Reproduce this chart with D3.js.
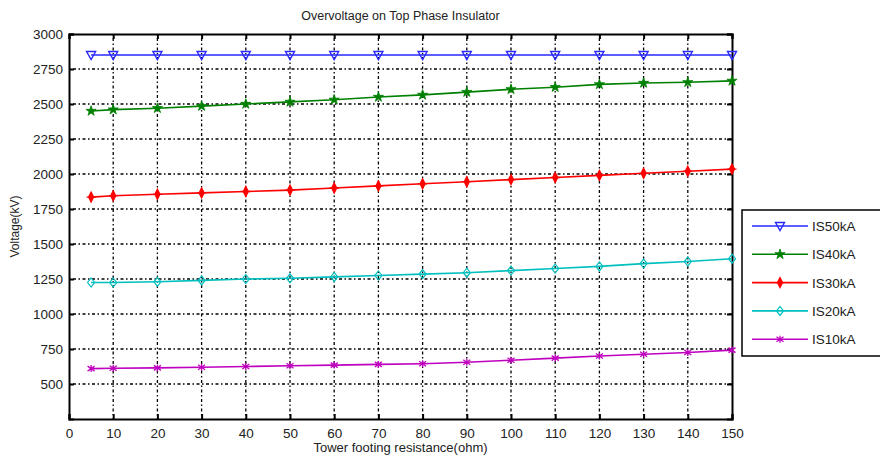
<!DOCTYPE html>
<html>
<head>
<meta charset="utf-8">
<script src="https://cdn.jsdelivr.net/npm/d3@7"></script>
<style>
  body { margin: 0; background: #fff; }
  svg { display: block; font-family: 'Liberation Sans', Arial, sans-serif; }
</style>
</head>
<body>
<script>
// data
var resistance = [5, 10, 20, 30, 40, 50, 60, 70, 80, 90, 100, 110, 120, 130, 140, 150]
var is50 = [2850, 2850, 2850, 2850, 2850, 2850, 2850, 2850, 2850, 2850, 2850, 2850, 2850, 2850, 2850, 2850]
var is40 = [2450, 2460, 2470, 2485, 2500, 2515, 2530, 2550, 2565, 2585, 2605, 2620, 2640, 2650, 2655, 2665]
var is30 = [1835, 1845, 1855, 1865, 1875, 1885, 1900, 1915, 1930, 1945, 1960, 1975, 1990, 2005, 2020, 2035]
var is20 = [1225, 1225, 1230, 1240, 1250, 1255, 1265, 1275, 1285, 1295, 1310, 1325, 1340, 1360, 1375, 1395]
var is10 = [610, 612, 615, 620, 625, 630, 635, 640, 645, 655, 670, 685, 700, 712, 725, 742]
var xTicks = [0, 10, 20, 30, 40, 50, 60, 70, 80, 90, 100, 110, 120, 130, 140, 150]
var yTicks = [500, 750, 1000, 1250, 1500, 1750, 2000, 2250, 2500, 2750, 3000]

var series = [
    { name: 'IS50kA', values: is50, color: '#2828ff', marker: 'tri' },
    { name: 'IS40kA', values: is40, color: '#008000', marker: 'star' },
    { name: 'IS30kA', values: is30, color: '#ff0000', marker: 'fdiamond' },
    { name: 'IS20kA', values: is20, color: '#00bfbf', marker: 'diamond' },
    { name: 'IS10kA', values: is10, color: '#bf00bf', marker: 'cross' }
]

var width = 880, height = 458
var plotLeft = 69, plotRight = 732, plotTop = 34, plotBottom = 419

var svg = d3.select('body').append('svg')
    .attr('width', width)
    .attr('height', height)

var x = d3.scaleLinear().domain([0, 150]).range([plotLeft, plotRight])
var y = d3.scaleLinear().domain([250, 3000]).range([plotBottom, plotTop])

// grid
var grid = svg.append('g')
grid.selectAll('.vg').data(xTicks.slice(1, -1)).enter().append('line')
    .attr('x1', d => x(d)).attr('x2', d => x(d))
    .attr('y1', plotTop).attr('y2', plotBottom)
    .attr('stroke', '#000').attr('stroke-width', 1.3)
    .attr('stroke-dasharray', '1.5,2.5,3,2.5')
grid.selectAll('.hg').data(yTicks.slice(0, -1)).enter().append('line')
    .attr('x1', plotLeft).attr('x2', plotRight)
    .attr('y1', d => y(d)).attr('y2', d => y(d))
    .attr('stroke', '#000').attr('stroke-width', 1.3)
    .attr('stroke-dasharray', '1.5,2.5,3,2.5')

// axes, ticks pointing inward like matlab
var xAxis = d3.axisBottom(x).tickValues(xTicks).tickSize(-5).tickPadding(9).tickFormat(d3.format('d'))
var yAxis = d3.axisLeft(y).tickValues(yTicks).tickSize(-5).tickPadding(6).tickFormat(d3.format('d'))

svg.append('g').attr('transform', 'translate(0,' + plotBottom + ')').call(xAxis)
svg.append('g').attr('transform', 'translate(' + plotLeft + ',0)').call(yAxis)
svg.append('g').attr('transform', 'translate(0,' + plotTop + ')')
    .call(d3.axisTop(x).tickValues(xTicks).tickSize(-5).tickFormat(''))
svg.append('g').attr('transform', 'translate(' + plotRight + ',0)')
    .call(d3.axisRight(y).tickValues(yTicks).tickSize(-5).tickFormat(''))

svg.selectAll('.domain').attr('stroke', '#000').attr('stroke-width', 2)
svg.selectAll('.tick line').attr('stroke', '#000').attr('stroke-width', 2)
svg.selectAll('.tick text').attr('font-size', 13.5).attr('fill', '#222')
    .attr('font-family', "'Liberation Sans', Arial, sans-serif")

// markers
function marker(sel, type, color) {
    if (type == 'tri') {
        sel.append('path').attr('d', 'M-4.5,-3.5 L4.5,-3.5 L0,4.5 Z')
            .attr('fill', 'none').attr('stroke', color).attr('stroke-width', 1.4)
    } else if (type == 'star') {
        sel.append('path').attr('d', d3.symbol(d3.symbolStar, 32)())
            .attr('fill', color).attr('stroke', color).attr('stroke-width', 0.8)
    } else if (type == 'fdiamond') {
        sel.append('path').attr('d', 'M0,-5 L2.5,0 L0,5 L-2.5,0 Z M-4.5,0 L4.5,0')
            .attr('fill', color).attr('stroke', color).attr('stroke-width', 1.3)
    } else if (type == 'diamond') {
        sel.append('path').attr('d', 'M0,-4.5 L3.5,0 L0,4.5 L-3.5,0 Z')
            .attr('fill', 'none').attr('stroke', color).attr('stroke-width', 1.2)
    } else {
        sel.append('path').attr('d', 'M-3.5,-2.5 L3.5,2.5 M-3.5,2.5 L3.5,-2.5 M0,-3.5 L0,3.5')
            .attr('fill', 'none').attr('stroke', color).attr('stroke-width', 1.3)
    }
}

var line = d3.line().x((d, i) => x(resistance[i])).y(d => y(d))

series.forEach(function(s) {
    svg.append('path').datum(s.values)
        .attr('d', line)
        .attr('fill', 'none')
        .attr('stroke', s.color)
        .attr('stroke-width', 1.6)
    s.values.forEach(function(v, i) {
        var g = svg.append('g').attr('transform', 'translate(' + x(resistance[i]) + ',' + y(v) + ')')
        marker(g, s.marker, s.color)
    })
})

// titles
svg.append('text').attr('x', (plotLeft + plotRight) / 2).attr('y', 20)
    .attr('text-anchor', 'middle').attr('font-size', 12.5).attr('fill', '#222')
    .text('Overvoltage on Top Phase Insulator')
svg.append('text').attr('x', (plotLeft + plotRight) / 2).attr('y', 452)
    .attr('text-anchor', 'middle').attr('font-size', 13).attr('fill', '#222')
    .text('Tower footing resistance(ohm)')
svg.append('text')
    .attr('transform', 'translate(19,' + ((plotTop + plotBottom) / 2) + ') rotate(-90)')
    .attr('text-anchor', 'middle').attr('font-size', 12).attr('fill', '#222')
    .text('Voltage(kV)')

// legend
var legend = svg.append('g')
legend.append('rect')
    .attr('x', 742).attr('y', 210).attr('width', 150).attr('height', 146)
    .attr('fill', '#fff').attr('stroke', '#000').attr('stroke-width', 1.5)
series.forEach(function(s, i) {
    var ly = 226 + i * 28.3
    legend.append('line').attr('x1', 752).attr('x2', 808).attr('y1', ly).attr('y2', ly)
        .attr('stroke', s.color).attr('stroke-width', 1.6)
    marker(legend.append('g').attr('transform', 'translate(780,' + ly + ')'), s.marker, s.color)
    legend.append('text').attr('x', 812).attr('y', ly + 5)
        .attr('font-size', 13.5).attr('fill', '#222').text(s.name)
})
</script>
</body>
</html>
